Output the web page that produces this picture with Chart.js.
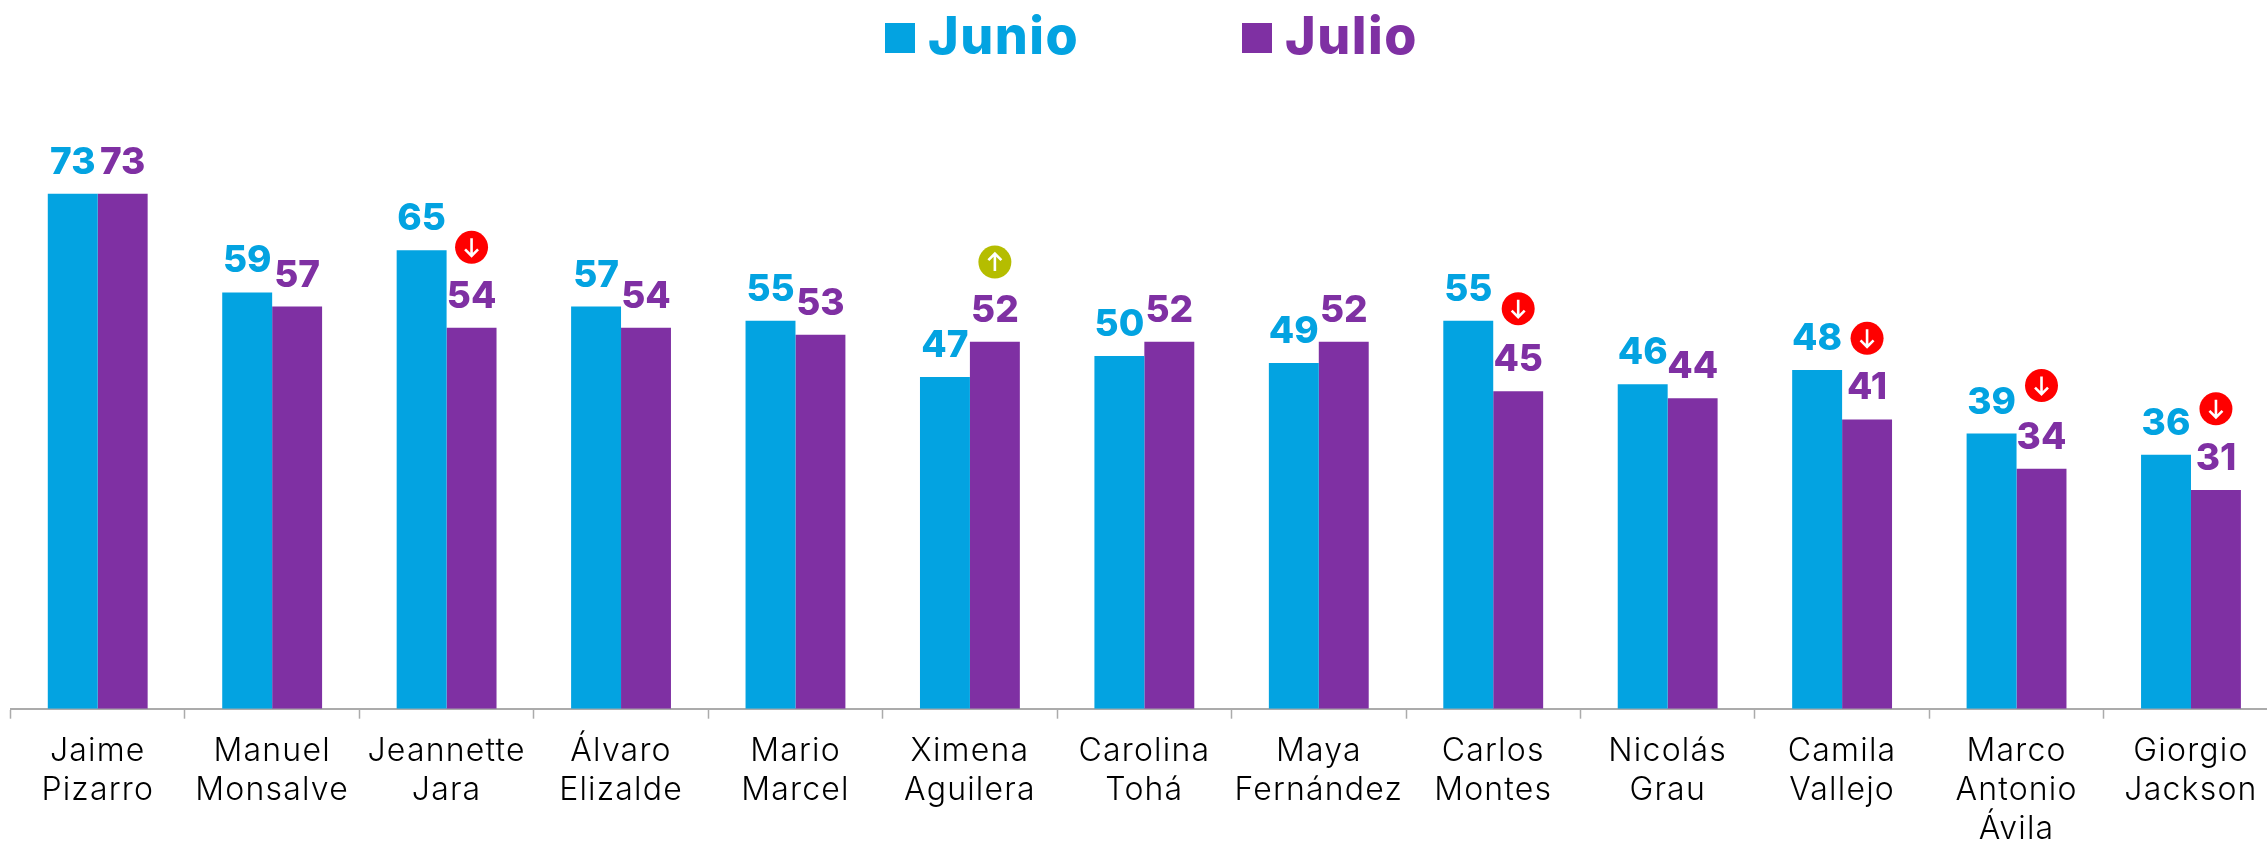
<!DOCTYPE html>
<html>
<head>
<meta charset="utf-8">
<script src="https://cdn.jsdelivr.net/npm/chart.js@4/dist/chart.umd.js"></script>
<style>
  html, body { margin: 0; padding: 0; background: #fff; overflow: hidden; }
  #wrap { width: 2267px; height: 841px; overflow: hidden; }
  canvas { display: block; }
</style>
</head>
<body>
<div id="wrap"><canvas id="chart" width="2280" height="841"></canvas></div>
<script>
var nombres = [
  ["Jaime", "Pizarro"], ["Manuel", "Monsalve"], ["Jeannette", "Jara"], ["Álvaro", "Elizalde"],
  ["Mario", "Marcel"], ["Ximena", "Aguilera"], ["Carolina", "Tohá"], ["Maya", "Fernández"],
  ["Carlos", "Montes"], ["Nicolás", "Grau"], ["Camila", "Vallejo"], ["Marco", "Antonio", "Ávila"],
  ["Giorgio", "Jackson"]
];
var junio = [73, 59, 65, 57, 55, 47, 50, 49, 55, 46, 48, 39, 36];
var julio = [73, 57, 54, 54, 53, 52, 52, 52, 45, 44, 41, 34, 31];

// arrow badges above the Julio bars: height on the value scale, and direction
var badgeLevel = [null, null, 65.4, null, null, 63.3, null, null, 56.7, null, 52.5, 45.8, 42.5];
var badgeDir = [0, 0, -1, 0, 0, 1, 0, 0, -1, 0, -1, -1, -1];

var azul = "#03A3E1";
var morado = "#7F30A3";
var rojo = "#FF0000";
var oliva = "#B5BD00";
var fontName = "Inter, 'Noto Sans', sans-serif";

// the tick labels are set a bit wider than the font's default
var tickSpacing = {
  id: "tickSpacing",
  beforeDraw: function (chart) { chart.ctx.letterSpacing = "1.2px"; }
};

var valueLabels = {
  id: "valueLabels",
  afterDatasetsDraw: function (chart) {
    var ctx = chart.ctx;
    ctx.save();
    ctx.letterSpacing = "0px";
    ctx.textAlign = "center";
    ctx.textBaseline = "alphabetic";
    ctx.font = "800 37px " + fontName;
    chart.data.datasets.forEach(function (ds, i) {
      ctx.fillStyle = ds.backgroundColor;
      chart.getDatasetMeta(i).data.forEach(function (bar, j) {
        ctx.fillText(ds.data[j], bar.x, bar.y - 20);
      });
    });
    ctx.restore();
  }
};

var badges = {
  id: "badges",
  afterDatasetsDraw: function (chart) {
    var ctx = chart.ctx;
    var bars = chart.getDatasetMeta(1).data;
    ctx.save();
    badgeLevel.forEach(function (level, j) {
      if (level === null) return;
      var x = bars[j].x;
      var y = chart.scales.y.getPixelForValue(level);
      var d = badgeDir[j];
      ctx.fillStyle = d > 0 ? oliva : rojo;
      ctx.beginPath();
      ctx.arc(x, y, 16.5, 0, Math.PI * 2);
      ctx.fill();
      // d = 1 points up, d = -1 points down
      ctx.strokeStyle = "#fff";
      ctx.lineWidth = 2.6;
      ctx.beginPath();
      ctx.moveTo(x, y + d * 9);
      ctx.lineTo(x, y - d * 8.5);
      ctx.moveTo(x - 6.5, y - d * 2);
      ctx.lineTo(x, y - d * 8.5);
      ctx.lineTo(x + 6.5, y - d * 2);
      ctx.stroke();
    });
    ctx.restore();
  }
};

var topLegend = {
  id: "topLegend",
  afterDraw: function (chart) {
    var ctx = chart.ctx;
    var boxes = [885, 1242];
    ctx.save();
    ctx.font = "800 52px " + fontName;
    ctx.letterSpacing = "1.5px";
    ctx.textAlign = "left";
    ctx.textBaseline = "alphabetic";
    chart.data.datasets.forEach(function (ds, i) {
      ctx.fillStyle = ds.backgroundColor;
      ctx.fillRect(boxes[i], 23, 30, 30);
      ctx.fillText(ds.label, boxes[i] + 43, 54);
    });
    ctx.restore();
  }
};

new Chart("chart", {
  type: "bar",
  data: {
    labels: nombres,
    datasets: [
      { label: "Junio", data: junio, backgroundColor: azul },
      { label: "Julio", data: julio, backgroundColor: morado }
    ]
  },
  options: {
    responsive: false,
    animation: false,
    categoryPercentage: 0.5725,
    barPercentage: 1,
    layout: { padding: { left: 10.5, right: 1.8, top: 3.2, bottom: 0 } },
    plugins: {
      legend: { display: false },
      title: { display: false },
      tooltip: { enabled: false }
    },
    scales: {
      y: { display: false, min: 0, max: 100 },
      x: {
        afterFit: function (scale) { scale.height = 132.3; },
        border: { color: "#ABABAB", width: 2 },
        grid: {
          offset: true,
          drawOnChartArea: false,
          drawTicks: true,
          tickLength: 10,
          tickColor: "#ABABAB",
          tickWidth: 1.5
        },
        ticks: {
          autoSkip: false,
          maxRotation: 0,
          minRotation: 0,
          padding: 13,
          color: "#000",
          font: { family: fontName, size: 32, weight: "300", lineHeight: 39 / 32 }
        }
      }
    }
  },
  plugins: [tickSpacing, valueLabels, badges, topLegend]
});
</script>
</body>
</html>
